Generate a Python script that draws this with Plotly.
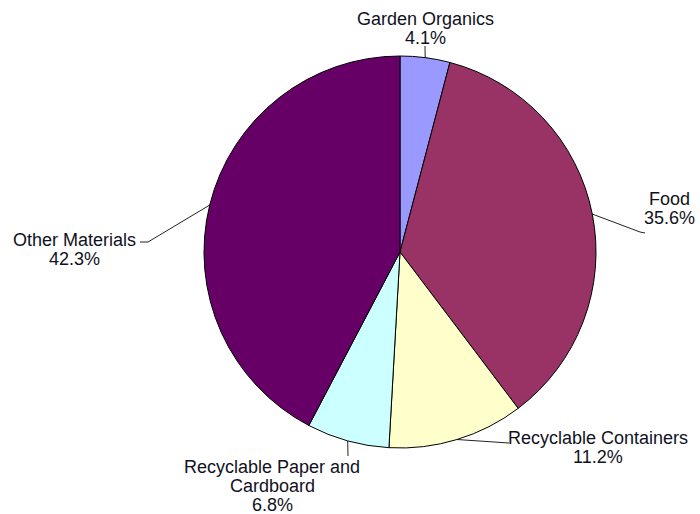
import math
import plotly.graph_objects as go

# ---- data ----
categories = ["Garden Organics", "Food", "Recyclable Containers",
              "Recyclable Paper and Cardboard", "Other Materials"]
values = [4.1, 35.6, 11.2, 6.8, 42.3]
label_lines = [["Garden Organics"], ["Food"], ["Recyclable Containers"],
               ["Recyclable Paper and", "Cardboard"], ["Other Materials"]]
colors = ["#9999FF", "#993366", "#FFFFCC", "#CCFFFF", "#660066"]

# ---- layout (pixels) ----
W, H = 700, 514
CX, CY, R = 400, 252, 196
LINE_H = 19
FONT = "Liberation Sans, Arial, sans-serif"
FS = 18
# per-slice label placement: (leader points after the edge point, text center x, first line y)
placement = [
    ([(425, 46)], 425, 19),
    ([(640, 232), (645, 233)], 669, 199),
    ([(505, 443), (509, 443)], 598, 438),
    ([(348, 456)], 272, 467),
    ([(148, 242), (140, 242)], 74, 240),
]

fig = go.Figure()
fig.add_trace(go.Pie(
    labels=categories, values=values, sort=False, direction="clockwise",
    rotation=0, textinfo="none", hoverinfo="label+percent",
    marker=dict(colors=colors, line=dict(color="#000000", width=1)),
    domain=dict(x=[(CX - R) / W, (CX + R) / W],
                y=[(H - CY - R) / H, (H - CY + R) / H]),
    showlegend=False,
))

total = sum(values)
cum = 0.0
annotations = []
for i, v in enumerate(values):
    ang = 2 * math.pi * (cum + v / 2) / total
    cum += v
    ex = CX + R * math.sin(ang)
    ey = CY - R * math.cos(ang)
    pts, tx, ty = placement[i]
    xs = [ex] + [p[0] for p in pts]
    ys = [ey] + [p[1] for p in pts]
    fig.add_trace(go.Scatter(x=xs, y=ys, mode="lines",
                             line=dict(color="#222222", width=1),
                             hoverinfo="skip", showlegend=False))
    lines = label_lines[i] + [f"{v:.1f}%"]
    for k, t in enumerate(lines):
        annotations.append(dict(
            x=tx, y=ty + k * LINE_H, xref="x", yref="y", text=t,
            showarrow=False, xanchor="center", yanchor="middle",
            font=dict(family=FONT, size=FS, color="#111122")))

fig.update_layout(
    width=W, height=H, margin=dict(l=0, r=0, t=0, b=0),
    paper_bgcolor="white", plot_bgcolor="rgba(0,0,0,0)",
    xaxis=dict(range=[0, W], visible=False, fixedrange=True, domain=[0, 1]),
    yaxis=dict(range=[H, 0], visible=False, fixedrange=True, domain=[0, 1]),
    annotations=annotations,
)

fig.write_html("out.html", config={"displayModeBar": False},
               post_script="document.body.style.margin='0';document.body.style.overflow='hidden';")
